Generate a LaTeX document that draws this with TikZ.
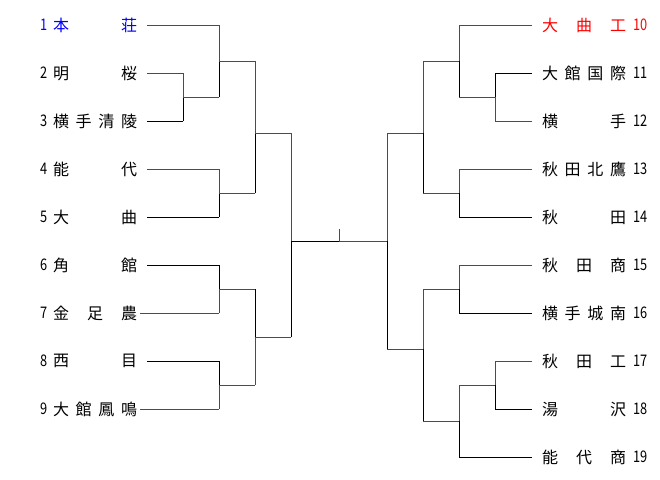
\documentclass[tikz,border=0pt]{standalone}
\usepackage{fontspec}
\usepackage{graphicx}
\setmainfont{Noto Sans CJK JP}
\definecolor{winred}{RGB}{255,0,0}
\definecolor{seedblue}{RGB}{0,0,255}
\newcommand\bkt[4]{\draw[#3] (#1) -- (#1 -| #2); \draw[#4] (#1 -| #2) -- (#2);}
\newcommand\numtxt[1]{\scalebox{0.8}[1]{#1}}
\newcommand\nm[1]{\makebox[84pt][s]{#1}}
\begin{document}
\begin{tikzpicture}[x=1pt,y=-1pt,line width=1pt,
  won/.style={winred}, lost/.style={black},
  lbl/.style={anchor=west, inner sep=0pt, font=\fontsize{16pt}{16pt}\selectfont}]
\useasboundingbox (0,0) rectangle (660,479);
% left labels
\node[lbl,text=seedblue] (n1) at (39.5,25) {\numtxt{1}};
\node[lbl,text=seedblue] (s1) at (52.5,25) {\nm{本\hfill 荘}};
\node[lbl] (n2) at (39.5,73) {\numtxt{2}};
\node[lbl] (s2) at (52.5,73) {\nm{明\hfill 桜}};
\node[lbl] (n3) at (39.5,121) {\numtxt{3}};
\node[lbl] (s3) at (52.5,121) {\nm{横\hfill 手\hfill 清\hfill 陵}};
\node[lbl] (n4) at (39.5,169) {\numtxt{4}};
\node[lbl] (s4) at (52.5,169) {\nm{能\hfill 代}};
\node[lbl] (n5) at (39.5,217) {\numtxt{5}};
\node[lbl] (s5) at (52.5,217) {\nm{大\hfill 曲}};
\node[lbl] (n6) at (39.5,265) {\numtxt{6}};
\node[lbl] (s6) at (52.5,265) {\nm{角\hfill 館}};
\node[lbl] (n7) at (39.5,313) {\numtxt{7}};
\node[lbl] (s7) at (52.5,313) {\nm{金\hfill 足\hfill 農}};
\node[lbl] (n8) at (39.5,361) {\numtxt{8}};
\node[lbl] (s8) at (52.5,361) {\nm{西\hfill 目}};
\node[lbl] (n9) at (39.5,409) {\numtxt{9}};
\node[lbl] (s9) at (52.5,409) {\nm{大\hfill 館\hfill 鳳\hfill 鳴}};
% right labels
\node[lbl,text=winred] (s10) at (541.5,25) {\nm{大\hfill 曲\hfill 工}};
\node[lbl,text=winred] (n10) at (632.5,25) {\numtxt{10}};
\node[lbl] (s11) at (541.5,73) {\nm{大\hfill 館\hfill 国\hfill 際}};
\node[lbl] (n11) at (632.5,73) {\numtxt{11}};
\node[lbl] (s12) at (541.5,121) {\nm{横\hfill 手}};
\node[lbl] (n12) at (632.5,121) {\numtxt{12}};
\node[lbl] (s13) at (541.5,169) {\nm{秋\hfill 田\hfill 北\hfill 鷹}};
\node[lbl] (n13) at (632.5,169) {\numtxt{13}};
\node[lbl] (s14) at (541.5,217) {\nm{秋\hfill 田}};
\node[lbl] (n14) at (632.5,217) {\numtxt{14}};
\node[lbl] (s15) at (541.5,265) {\nm{秋\hfill 田\hfill 商}};
\node[lbl] (n15) at (632.5,265) {\numtxt{15}};
\node[lbl] (s16) at (541.5,313) {\nm{横\hfill 手\hfill 城\hfill 南}};
\node[lbl] (n16) at (632.5,313) {\numtxt{16}};
\node[lbl] (s17) at (541.5,361) {\nm{秋\hfill 田\hfill 工}};
\node[lbl] (n17) at (632.5,361) {\numtxt{17}};
\node[lbl] (s18) at (541.5,409) {\nm{湯\hfill 沢}};
\node[lbl] (n18) at (632.5,409) {\numtxt{18}};
\node[lbl] (s19) at (541.5,457) {\nm{能\hfill 代\hfill 商}};
\node[lbl] (n19) at (632.5,457) {\numtxt{19}};
% team line ends
\coordinate (t1) at (147,25);
\coordinate (t2) at (147,73);
\coordinate (t3) at (147,121);
\coordinate (t4) at (147,169);
\coordinate (t5) at (147,217);
\coordinate (t6) at (147,265);
\coordinate (t7) at (140,313);
\coordinate (t8) at (147,361);
\coordinate (t9) at (140,409);
\coordinate (t10) at (532,25);
\coordinate (t11) at (532,73);
\coordinate (t12) at (532,121);
\coordinate (t13) at (532,169);
\coordinate (t14) at (532,217);
\coordinate (t15) at (532,265);
\coordinate (t16) at (532,313);
\coordinate (t17) at (532,361);
\coordinate (t18) at (532,409);
\coordinate (t19) at (532,457);
% match points
\coordinate (mL23) at (183,97);
\coordinate (mL1) at (219,61);
\coordinate (mL45) at (219,193);
\coordinate (mLA) at (255,133);
\coordinate (mL67) at (219,289);
\coordinate (mL89) at (219,385);
\coordinate (mLB) at (255,337);
\coordinate (fL) at (291,241);
\coordinate (mR1112) at (495,97);
\coordinate (mR10) at (459,61);
\coordinate (mR1314) at (459,193);
\coordinate (mRA) at (423,133);
\coordinate (mR1516) at (459,289);
\coordinate (mR1718) at (495,385);
\coordinate (mR19) at (459,421);
\coordinate (mRB) at (423,349);
\coordinate (fR) at (387,241);
\coordinate (fc) at (339,241);
\coordinate (ftop) at (339,229);
% left bracket
\bkt{t1}{mL1}{won}{won}
\bkt{t2}{mL23}{won}{won}
\bkt{t3}{mL23}{lost}{lost}
\bkt{mL23}{mL1}{won}{lost}
\bkt{t4}{mL45}{won}{won}
\bkt{t5}{mL45}{lost}{lost}
\bkt{mL1}{mLA}{won}{won}
\bkt{mL45}{mLA}{won}{lost}
\bkt{t6}{mL67}{lost}{lost}
\bkt{t7}{mL67}{won}{won}
\bkt{t8}{mL89}{lost}{lost}
\bkt{t9}{mL89}{won}{won}
\bkt{mL67}{mLB}{won}{lost}
\bkt{mL89}{mLB}{won}{won}
\bkt{mLA}{fL}{won}{won}
\bkt{mLB}{fL}{won}{lost}
% right bracket
\bkt{t10}{mR10}{won}{won}
\bkt{t11}{mR1112}{lost}{lost}
\bkt{t12}{mR1112}{won}{won}
\bkt{mR1112}{mR10}{won}{lost}
\bkt{t13}{mR1314}{won}{won}
\bkt{t14}{mR1314}{lost}{lost}
\bkt{mR10}{mRA}{won}{won}
\bkt{mR1314}{mRA}{won}{lost}
\bkt{t15}{mR1516}{won}{won}
\bkt{t16}{mR1516}{lost}{lost}
\bkt{t17}{mR1718}{won}{won}
\bkt{t18}{mR1718}{lost}{lost}
\bkt{mR1718}{mR19}{won}{won}
\bkt{t19}{mR19}{lost}{lost}
\bkt{mR1516}{mRB}{won}{won}
\bkt{mR19}{mRB}{won}{lost}
\bkt{mRA}{fR}{won}{won}
\bkt{mRB}{fR}{won}{lost}
% final
\draw[lost] (fL) -- (fc);
\draw[won] (fc) -- (fR);
\draw[won] (fc) -- (ftop);
\end{tikzpicture}
\end{document}
